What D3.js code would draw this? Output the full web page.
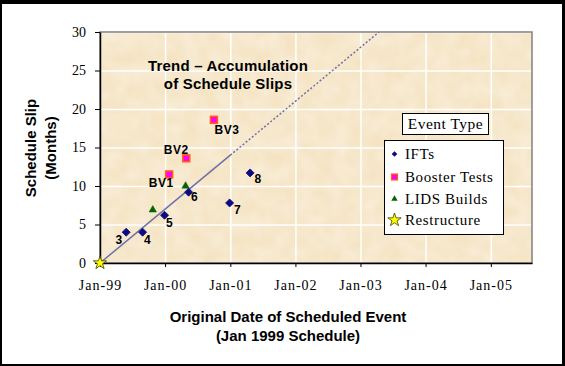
<!DOCTYPE html>
<html>
<head>
<meta charset="utf-8">
<script src="https://cdn.jsdelivr.net/npm/d3@7"></script>
<style>
  body { margin: 0; background: #fff; }
  svg { display: block; }
</style>
</head>
<body>
<div class="chart"></div>
<script>
// data
var iftDates = ["1999-05-28", "1999-08-28", "1999-12-29", "2000-05-12", "2000-12-28", "2001-04-22"];
var iftSlip = [4.0, 4.0, 6.2, 9.2, 7.8, 11.7];
var iftLabels = ["3", "4", "5", "6", "7", "8"];

var boosterDates = ["2000-01-24", "2000-04-29", "2000-10-01"];
var boosterSlip = [11.5, 13.6, 18.6];
var boosterLabels = ["BV1", "BV2", "BV3"];

var lidsDates = ["1999-10-24", "2000-04-25"];
var lidsSlip = [6.9, 10.0];

var restructureDates = ["1999-01-01"];
var restructureSlip = [0];

var trendDates = ["1999-01-01", "2001-01-01", "2003-04-15"];
var trendSlip = [0, 14, 30];

var yTicks = [0, 5, 10, 15, 20, 25, 30];
var xTickLabels = ["Jan-99", "Jan-00", "Jan-01", "Jan-02", "Jan-03", "Jan-04", "Jan-05"];
var legendNames = ["IFTs", "Booster Tests", "LIDS Builds", "Restructure"];

var parse = d3.timeParse("%Y-%m-%d");

var W = 565, H = 366;
var margin = {top: 32, right: 33, bottom: 103, left: 100},
    width = W - margin.left - margin.right,
    height = H - margin.top - margin.bottom;

var svg = d3.select(".chart").append("svg")
    .attr("width", W)
    .attr("height", H);

// outer frame
svg.append("rect").attr("width", W).attr("height", H).style("fill", "#000");
svg.append("rect").attr("x", 2).attr("y", 4).attr("width", 560).attr("height", 360).style("fill", "#fff");

// parchment texture
var defs = svg.append("defs");
var filt = defs.append("filter").attr("id", "paper").attr("x", 0).attr("y", 0).attr("width", 1).attr("height", 1);
filt.append("feTurbulence").attr("type", "fractalNoise").attr("baseFrequency", 0.06).attr("numOctaves", 2).attr("seed", 5).attr("result", "noise");
filt.append("feColorMatrix").attr("in", "noise").attr("type", "matrix")
    .attr("values", "0 0 0 0 1  0 0 0 0 0.96  0 0 0 0 0.88  0.6 0 0 0 -0.15").attr("result", "tint");
filt.append("feFlood").attr("flood-color", "#f5e4c4").attr("result", "base");
filt.append("feComposite").attr("in", "tint").attr("in2", "base").attr("operator", "over");

var g = svg.append("g")
    .attr("transform", "translate(" + margin.left + "," + margin.top + ")");

var x = d3.scaleTime()
    .domain([parse("1999-01-01"), parse("2005-08-20")])
    .range([0, width]);
var y = d3.scaleLinear()
    .domain([0, 30])
    .range([height, 0]);

var xTicks = xTickLabels.map(function (d, i) { return new Date(1999 + i, 0, 1); });

g.append("rect")
    .attr("width", width)
    .attr("height", height)
    .attr("filter", "url(#paper)");

// gridlines
g.append("g")
    .call(d3.axisLeft(y).tickValues(yTicks).tickSize(-width).tickFormat(""))
    .call(function (s) {
        s.select(".domain").remove();
        s.selectAll("line").style("stroke", "#fff").style("stroke-width", 1.5);
    });
g.append("g")
    .call(d3.axisBottom(x).tickValues(xTicks).tickSize(height).tickFormat(""))
    .call(function (s) {
        s.select(".domain").remove();
        s.selectAll("line").style("stroke", "#fff").style("stroke-width", 1.5);
    });

// plot border
g.append("rect")
    .attr("width", width)
    .attr("height", height)
    .style("fill", "none")
    .style("stroke", "#808080")
    .style("stroke-width", 1.5);

var serif = "'Liberation Serif', 'Times New Roman', serif";
var sans = "'Liberation Sans', Arial, sans-serif";

// axes
var xAxis = g.append("g")
    .attr("transform", "translate(0," + height + ")")
    .call(d3.axisBottom(x).tickValues(xTicks).tickSizeInner(4).tickSizeOuter(0)
        .tickFormat(function (d, i) { return xTickLabels[i]; }));
xAxis.select(".domain").style("stroke", "#000").style("stroke-width", 1.5);
xAxis.selectAll("text")
    .attr("y", 17)
    .style("font-family", serif)
    .style("font-size", "14px")
    .style("letter-spacing", "1px")
    .style("fill", "#000");

var yAxis = g.append("g")
    .call(d3.axisLeft(y).tickValues(yTicks).tickSizeInner(5).tickSizeOuter(0));
yAxis.select(".domain").style("stroke", "#000").style("stroke-width", 1.5);
yAxis.selectAll("text")
    .attr("x", -14)
    .style("font-family", serif)
    .style("font-size", "14px")
    .style("fill", "#000");

// trend line: solid part then dotted
var trend = trendDates.map(function (d, i) { return {date: parse(d), slip: trendSlip[i]}; });
var line = d3.line()
    .x(function (d) { return x(d.date); })
    .y(function (d) { return y(d.slip); });
g.append("path")
    .datum(trend.slice(0, 2))
    .attr("d", line)
    .style("fill", "none")
    .style("stroke", "#6f6fa8")
    .style("stroke-width", 1.5);
g.append("path")
    .datum(trend.slice(1))
    .attr("d", line)
    .style("fill", "none")
    .style("stroke", "#6f6fa8")
    .style("stroke-width", 1.5)
    .style("stroke-dasharray", "2,2");

// marker shapes
var diamond = d3.symbol().type(d3.symbolSquare).size(32);
var triangle = d3.symbol().type(d3.symbolTriangle).size(24);
var star = d3.symbol().type(d3.symbolStar).size(55);

function toPoints(dates, slips, labels) {
    return dates.map(function (d, i) {
        return {date: parse(d), slip: slips[i], label: labels ? labels[i] : ""};
    });
}
var ifts = toPoints(iftDates, iftSlip, iftLabels);
var boosters = toPoints(boosterDates, boosterSlip, boosterLabels);
var lids = toPoints(lidsDates, lidsSlip);
var restructure = toPoints(restructureDates, restructureSlip);

g.selectAll(".lids")
    .data(lids)
    .enter().append("path")
    .attr("class", "lids")
    .attr("d", triangle)
    .attr("transform", function (d) { return "translate(" + x(d.date) + "," + y(d.slip) + ")"; })
    .style("fill", "#006400")
    .style("stroke", "#006400")
    .style("stroke-width", 0.5);

g.selectAll(".ift")
    .data(ifts)
    .enter().append("path")
    .attr("class", "ift")
    .attr("d", diamond)
    .attr("transform", function (d) { return "translate(" + x(d.date) + "," + y(d.slip) + ") rotate(45)"; })
    .style("fill", "#0c0c80")
    .style("stroke", "#0c0c80")
    .style("stroke-width", 0.8);

g.selectAll(".booster")
    .data(boosters)
    .enter().append("rect")
    .attr("class", "booster")
    .attr("x", function (d) { return x(d.date) - 3.5; })
    .attr("y", function (d) { return y(d.slip) - 3.5; })
    .attr("width", 7)
    .attr("height", 7)
    .style("fill", "#ff00ff")
    .style("stroke", "#ff6600")
    .style("stroke-width", 1.5);

g.selectAll(".restructure")
    .data(restructure)
    .enter().append("path")
    .attr("class", "restructure")
    .attr("d", star)
    .attr("transform", function (d) { return "translate(" + x(d.date) + "," + y(d.slip) + ")"; })
    .style("fill", "#ffff00")
    .style("stroke", "#404000")
    .style("stroke-width", 0.8);

// point labels
var iftOffsets = [[-7, 8], [5, 8], [5, 8], [6, 5], [8, 7], [8, 6]];
var boosterOffsets = [[-8, 9], [-10, -8], [13, 10]];

function labelText(sel, offsets) {
    sel.attr("x", function (d, i) { return x(d.date) + offsets[i][0]; })
        .attr("y", function (d, i) { return y(d.slip) + offsets[i][1]; })
        .attr("text-anchor", "middle")
        .attr("dominant-baseline", "central")
        .style("font-family", sans)
        .style("font-weight", "bold")
        .style("font-size", "12px")
        .style("letter-spacing", "0.5px")
        .style("fill", "#000")
        .text(function (d) { return d.label; });
}
labelText(g.selectAll(".iftLabel").data(ifts).enter().append("text").attr("class", "iftLabel"), iftOffsets);
labelText(g.selectAll(".bLabel").data(boosters).enter().append("text").attr("class", "bLabel"), boosterOffsets);

// chart note
var note = svg.append("text")
    .attr("text-anchor", "middle")
    .style("font-family", sans)
    .style("font-weight", "bold")
    .style("font-size", "15px")
    .style("letter-spacing", "0.2px");
note.append("tspan").attr("x", 228).attr("y", 71).text("Trend \u2013 Accumulation");
note.append("tspan").attr("x", 228).attr("y", 89).text("of Schedule Slips");

// axis titles
var yTitle = svg.append("text")
    .attr("transform", "translate(0,148) rotate(-90)")
    .attr("text-anchor", "middle")
    .style("font-family", sans)
    .style("font-weight", "bold")
    .style("font-size", "15px");
yTitle.append("tspan").attr("x", 0).attr("y", 36).text("Schedule Slip");
yTitle.append("tspan").attr("x", 0).attr("y", 56).text("(Months)");

var xTitle = svg.append("text")
    .attr("text-anchor", "middle")
    .style("font-family", sans)
    .style("font-weight", "bold")
    .style("font-size", "15px");
xTitle.append("tspan").attr("x", 288).attr("y", 322).text("Original Date of Scheduled Event");
xTitle.append("tspan").attr("x", 288).attr("y", 341).text("(Jan 1999 Schedule)");

// legend title
svg.append("rect")
    .attr("x", 402.5).attr("y", 113.5).attr("width", 86).attr("height", 21)
    .style("fill", "#fff").style("stroke", "#000");
svg.append("text")
    .attr("x", 445.5).attr("y", 129)
    .attr("text-anchor", "middle")
    .style("font-family", serif)
    .style("font-size", "15.5px")
    .style("letter-spacing", "0.5px")
    .text("Event Type");

// legend
var legend = svg.append("g");
legend.append("rect")
    .attr("x", 384.5).attr("y", 140.5).attr("width", 119).attr("height", 94)
    .style("fill", "#fff").style("stroke", "#000");
var legendY = [154, 177, 199, 220];
legendNames.forEach(function (name, i) {
    var cx = 394.5, cy = legendY[i];
    if (i === 0) {
        legend.append("path").attr("d", d3.symbol().type(d3.symbolSquare).size(16)())
            .attr("transform", "translate(" + cx + "," + cy + ") rotate(45)").style("fill", "#0c0c80");
    } else if (i === 1) {
        legend.append("rect").attr("x", cx - 3).attr("y", cy - 3).attr("width", 6).attr("height", 6)
            .style("fill", "#ff00ff").style("stroke", "#ff6600").style("stroke-width", 1.2);
    } else if (i === 2) {
        legend.append("path").attr("d", d3.symbol().type(d3.symbolTriangle).size(18)())
            .attr("transform", "translate(" + cx + "," + cy + ")").style("fill", "#006400");
    } else {
        legend.append("path").attr("d", star())
            .attr("transform", "translate(" + cx + "," + cy + ")")
            .style("fill", "#ffff00").style("stroke", "#404000").style("stroke-width", 0.8);
    }
    legend.append("text")
        .attr("x", 405).attr("y", cy)
        .attr("dominant-baseline", "central")
        .style("font-family", serif)
        .style("font-size", "15px")
        .style("letter-spacing", "0.6px")
        .text(name);
});
</script>
</body>
</html>
